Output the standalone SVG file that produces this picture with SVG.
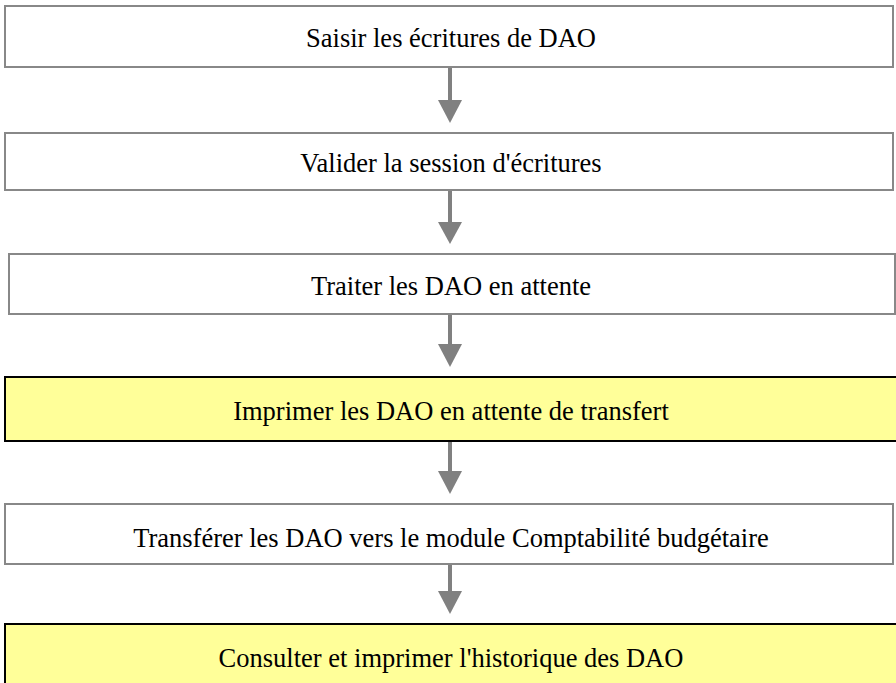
<svg xmlns="http://www.w3.org/2000/svg" width="896" height="683" viewBox="0 0 896 683">
<style>
.box{fill:#ffffff;stroke:#888888;stroke-width:2}
.hl{fill:#ffff99;stroke:#000000;stroke-width:2}
.lbl{font-family:"Liberation Serif","Times New Roman",serif;font-size:26.5px;fill:#000000;text-anchor:middle}
.shaft{stroke:#808080;stroke-width:4;fill:none}
.head{fill:#808080;stroke:none}
</style>
<rect width="896" height="683" fill="#ffffff"/>
<g id="connectors">
<line class="shaft" x1="450" y1="67" x2="450" y2="101"/><polygon class="head" points="438,100 462,100 450,123"/>
<line class="shaft" x1="450" y1="190" x2="450" y2="223"/><polygon class="head" points="438,222 462,222 450,244"/>
<line class="shaft" x1="450" y1="314" x2="450" y2="345"/><polygon class="head" points="438,344 462,344 450,367"/>
<line class="shaft" x1="450" y1="441" x2="450" y2="472"/><polygon class="head" points="438,471 462,471 450,494"/>
<line class="shaft" x1="450" y1="564" x2="450" y2="592"/><polygon class="head" points="438,591 462,591 450,614"/>
</g>
<g id="n1"><rect class="box" x="5" y="6" width="888" height="61"/><text class="lbl" x="451" y="47">Saisir les écritures de DAO</text></g>
<g id="n2"><rect class="box" x="5" y="133" width="888" height="57"/><text class="lbl" x="451" y="172">Valider la session d'écritures</text></g>
<g id="n3"><rect class="box" x="9" y="254" width="886" height="60"/><text class="lbl" x="451" y="295">Traiter les DAO en attente</text></g>
<g id="n4"><rect class="hl" x="5" y="377" width="893" height="64"/><text class="lbl" x="451" y="420">Imprimer les DAO en attente de transfert</text></g>
<g id="n5"><rect class="box" x="5" y="504" width="888" height="60"/><text class="lbl" x="451" y="547">Transférer les DAO vers le module Comptabilité budgétaire</text></g>
<g id="n6"><rect class="hl" x="5" y="624" width="893" height="64"/><text class="lbl" x="451" y="667">Consulter et imprimer l'historique des DAO</text></g>
</svg>
